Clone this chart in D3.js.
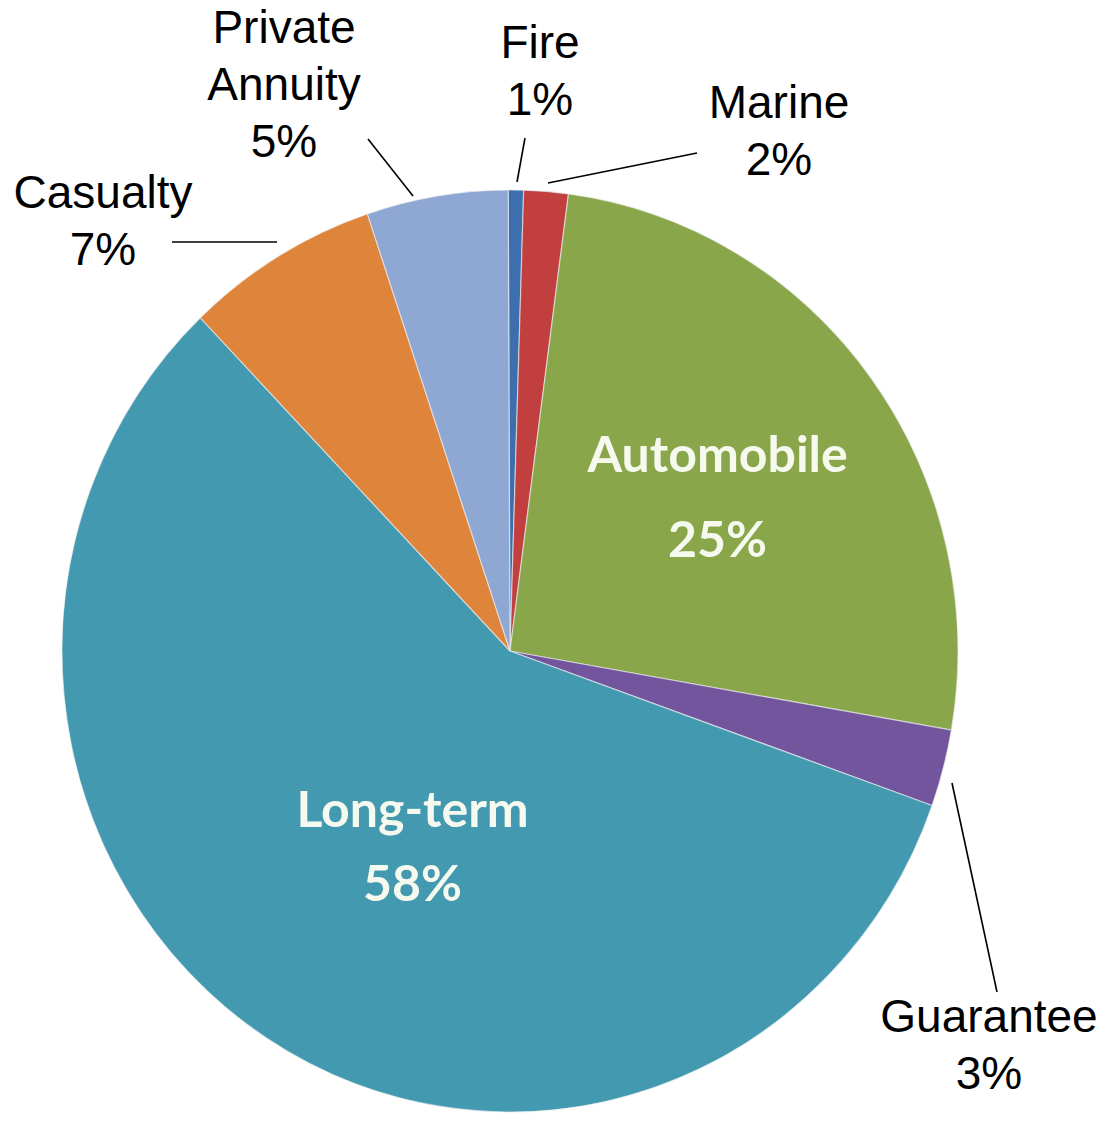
<!DOCTYPE html>
<html lang="en">
<head>
    <meta charset="UTF-8">
    <script src="https://d3js.org/d3.v7.min.js"></script>
    <title>insurance pie</title>
    <style>
      body { margin: 0; background: #fff; }
    </style>
</head>
<body>
    <div id="chart"></div>

    <script>
      // slices, clockwise from 12 o'clock
      var categories = ["Fire", "Marine", "Automobile", "Guarantee", "Long-term", "Casualty", "Private Annuity"];
      var shares     = [0.55, 1.6, 25.7, 2.7, 57.5, 7.0, 5.1];
      var pctLabels  = ["1%", "2%", "25%", "3%", "58%", "7%", "5%"];
      var colors     = ["#3d6fae", "#c1403f", "#8aa64a", "#73559e", "#4299b0", "#df843b", "#8fa8d3"];

      var W = 1106, H = 1123;
      var cx = 510, cy = 651, rx = 448, ry = 461;

      // label placement (text lines, leader line) - layout only
      var outside = {
        "Fire":            {x: 540, y: 58,   lines: ["Fire"],               lead: [[525,138],[517,182]]},
        "Marine":          {x: 779, y: 118,  lines: ["Marine"],             lead: [[697,153],[548,183]]},
        "Guarantee":       {x: 989, y: 1032, lines: ["Guarantee"],          lead: [[952,783],[997,992]]},
        "Casualty":        {x: 103, y: 208,  lines: ["Casualty"],           lead: [[172,242],[277,242]]},
        "Private Annuity": {x: 284, y: 43,   lines: ["Private", "Annuity"], lead: [[368,139],[413,196]]}
      };
      var inside = {
        "Automobile": {r: 0.575, dy: 3,  gap: 85},
        "Long-term":  {r: 0.40,  dy: 46, gap: 74}
      };

      var data = categories.map(function(c, i) {
        return {name: c, value: shares[i], pct: pctLabels[i], color: colors[i]};
      });

      var svg = d3.select("#chart").append("svg")
          .attr("width", W).attr("height", H);

      var pie = d3.pie().sort(null).value(d => d.value)
          .startAngle(-0.004).endAngle(2 * Math.PI - 0.004);
      var arcs = pie(data);

      var arc = d3.arc().innerRadius(0).outerRadius(rx);

      var g = svg.append("g")
          .attr("transform", "translate(" + cx + "," + cy + ") scale(1," + (ry / rx) + ")");

      g.selectAll("path").data(arcs).enter().append("path")
          .attr("d", arc)
          .attr("fill", d => d.data.color)
          .attr("stroke", "#eef0f0")
          .attr("stroke-opacity", 0.6)
          .attr("stroke-width", 1.2);

      // inner labels
      arcs.forEach(function(a) {
        var cfg = inside[a.data.name];
        if (!cfg) return;
        var c = d3.arc().innerRadius(rx * cfg.r).outerRadius(rx * cfg.r).centroid(a);
        var x = cx + c[0], y = cy + c[1] * ry / rx + cfg.dy;
        var t = svg.append("text")
            .attr("x", x).attr("text-anchor", "middle")
            .attr("font-family", "Lato, 'Open Sans', sans-serif")
            .attr("font-weight", "bold")
            .attr("font-size", 50)
            .attr("fill", "#f5f9ee");
        t.append("tspan").attr("x", x).attr("y", y - 25).text(a.data.name);
        t.append("tspan").attr("x", x).attr("y", y - 25 + cfg.gap).text(a.data.pct);
      });

      // outside labels with leader lines
      var lineGap = 57;
      arcs.forEach(function(a) {
        var cfg = outside[a.data.name];
        if (!cfg) return;
        svg.append("line")
            .attr("x1", cfg.lead[0][0]).attr("y1", cfg.lead[0][1])
            .attr("x2", cfg.lead[1][0]).attr("y2", cfg.lead[1][1])
            .attr("stroke", "#000").attr("stroke-width", 1.6);
        var t = svg.append("text")
            .attr("text-anchor", "middle")
            .attr("font-family", "'Liberation Sans', Arial, sans-serif")
            .attr("font-size", 46)
            .attr("fill", "#000");
        cfg.lines.concat([a.data.pct]).forEach(function(s, i) {
          t.append("tspan").attr("x", cfg.x).attr("y", cfg.y + i * lineGap).text(s);
        });
      });
    </script>
</body>
</html>
